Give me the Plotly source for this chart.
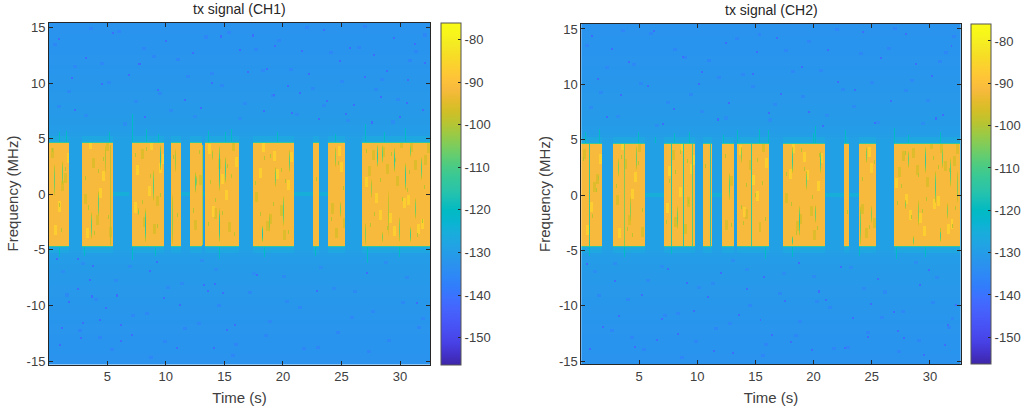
import numpy as np
import plotly.graph_objects as go

# Colour limits shared by both spectrograms (dB)
Z_MIN, Z_MAX = -156.3, -76.0
TIME_SPAN = 32.7
FREQ_SPAN = 15.5
BURST_LEVEL = -91.5

PARULA = [
    [0.2422, 0.1504, 0.6603], [0.2647, 0.1978, 0.7952], [0.2783, 0.2559, 0.8991],
    [0.2813, 0.3006, 0.9414], [0.2795, 0.3447, 0.9717], [0.2699, 0.3892, 0.9906],
    [0.2440, 0.4358, 0.9988], [0.1963, 0.4847, 0.9892], [0.1786, 0.5289, 0.9682],
    [0.1687, 0.5703, 0.9359], [0.1460, 0.6091, 0.9079], [0.1248, 0.6459, 0.8883],
    [0.0952, 0.6798, 0.8598], [0.0297, 0.7082, 0.8163], [0.0067, 0.7312, 0.7660],
    [0.0964, 0.7500, 0.7120], [0.1717, 0.7670, 0.6554], [0.2161, 0.7843, 0.5923],
    [0.2906, 0.7973, 0.5188], [0.3909, 0.8029, 0.4354], [0.5044, 0.7993, 0.3480],
    [0.6174, 0.7876, 0.2612], [0.7242, 0.7698, 0.1910], [0.8203, 0.7498, 0.1535],
    [0.9035, 0.7330, 0.1774], [0.9728, 0.7298, 0.2394], [0.9970, 0.7659, 0.2199],
    [0.9892, 0.8136, 0.1885], [0.9676, 0.8639, 0.1494], [0.9597, 0.9135, 0.1423],
    [0.9691, 0.9606, 0.1064], [0.9769, 0.9839, 0.0805],
]

# Transmission bursts: start and stop times (s)
ch1_bursts = [(0.0, 1.72), (2.84, 5.48), (7.13, 9.78), (10.38, 11.23), (12.06, 13.06),
              (13.34, 16.18), (17.38, 20.94), (22.56, 23.07), (23.87, 25.29), (26.77, 32.7)]
ch2_bursts = [(0.0, 1.81), (2.81, 5.56), (7.16, 9.80), (10.46, 11.29), (12.10, 13.18),
              (13.39, 16.25), (17.45, 21.04), (22.61, 23.10), (23.90, 25.36), (26.89, 32.7)]

# Fades inside the bursts: time, upper frequency, lower frequency, level (dB)
ch1_fades = [
    (0.50, 2.7, -0.15, -106), (1.18, 3.0, 0.75, -106), (3.66, -1.5, -4.0, -108),
    (4.26, 0.3, -2.0, -108), (4.80, 4.5, 1.9, -100), (7.67, -1.3, -1.8, -104),
    (8.16, -1.3, -4.3, -114), (8.84, 2.2, -0.6, -108), (9.44, 4.5, 2.2, -114),
    (10.49, 0.0, -4.5, -103), (10.78, 4.1, 2.0, -102), (12.43, 2.0, 0.1, -108),
    (12.57, 1.6, 0.7, -104), (13.91, 4.0, 3.1, -102), (14.48, 4.4, 0.3, -116),
    (14.48, -1.3, -4.3, -116), (14.99, 3.4, 1.0, -110), (18.18, -2.85, -4.3, -116),
    (18.75, -1.6, -3.4, -102), (19.32, 2.5, 0.6, -106), (20.03, -0.15, -2.85, -108),
    (20.54, 4.0, 2.0, -108), (24.44, 4.3, 2.5, -104), (24.87, -0.7, -2.0, -104),
    (27.00, -2.5, -4.5, -104), (27.50, 1.4, -0.4, -102), (28.00, 4.5, 2.5, -112),
    (28.49, 4.5, 2.8, -108), (28.50, -3.4, -4.3, -104), (29.00, 0.4, -3.7, -100),
    (29.48, 4.2, 2.0, -112), (29.94, -2.0, -4.3, -106), (30.42, 2.8, 0.4, -112),
    (30.90, 4.5, 3.4, -106), (30.90, -2.9, -4.3, -110), (31.30, -0.4, -2.2, -106),
    (31.79, 3.4, 1.3, -108), (5.30, 4.5, -4.5, -98), (13.04, 4.5, -4.5, -100),
]
ch2_fades = [
    (0.69, 4.6, -4.6, -112), (3.21, 3.4, 1.6, -104), (3.73, 4.6, -4.6, -104),
    (4.21, -0.15, -2.5, -104), (4.73, 4.5, 2.3, -106), (7.77, 4.6, -4.6, -114),
    (8.23, -1.0, -3.1, -106), (8.80, 4.6, -4.6, -114), (9.52, 4.6, -4.6, -108),
    (11.06, 4.6, -4.6, -114), (12.67, 2.0, -0.45, -108), (13.73, 4.4, 2.9, -104),
    (14.59, 4.6, -4.6, -112), (18.20, 4.4, 2.0, -112), (18.20, -3.7, -4.5, -112),
    (18.83, -1.0, -3.7, -112), (19.40, 2.2, 0.45, -106), (20.12, -0.9, -2.5, -106),
    (20.61, 4.0, 2.0, -110), (23.99, -1.0, -4.5, -108), (24.56, 4.4, 2.9, -106),
    (24.99, -1.0, -2.5, -104), (27.86, -0.45, -1.3, -104), (28.14, 4.0, 2.5, -106),
    (28.57, -3.7, -4.5, -106), (29.00, -0.45, -2.8, -104), (29.58, 4.4, 2.0, -112),
    (30.44, 2.2, -0.75, -110), (30.87, -3.1, -4.3, -110), (31.00, 4.4, 2.5, -106),
    (31.44, -0.75, -2.2, -104), (31.73, 3.4, 0.75, -108), (32.44, 2.2, -0.75, -104),
]

# Leakage reaching past the occupied band: time, frequency extent above or below the band edge
ch1_spikes = [(0.90, 5.6), (1.53, 5.7), (5.20, 5.6), (7.13, 7.2), (8.27, 5.9), (9.30, 5.5),
              (13.60, 5.7), (15.00, 5.6), (15.50, 5.9), (19.50, 5.6), (24.40, 5.5),
              (27.00, 6.4), (28.60, 5.6), (30.40, 6.0), (0.90, -5.6), (3.00, -5.5),
              (7.13, -5.9), (9.00, -5.5), (14.50, -5.8), (18.40, -5.6), (22.70, -5.5),
              (27.20, -6.2), (29.90, -5.6)]
ch2_spikes = [(0.38, 5.7), (1.60, 6.0), (4.90, 5.7), (6.36, 5.3), (8.00, 5.6), (9.30, 5.7),
              (12.20, 5.5), (13.40, 5.9), (15.30, 6.0), (16.10, 5.9), (20.00, 5.6),
              (20.20, 6.3), (22.70, 5.9), (26.90, 6.1), (28.10, 5.5), (30.90, 5.7),
              (0.69, -5.5), (3.72, -5.6), (7.77, -5.4), (15.90, -5.8), (18.20, -5.6),
              (23.90, -5.5), (27.10, -5.8), (29.60, -5.6)]

# Residual tone at DC between bursts: start, stop (s)
ch1_dc_gaps = [(5.48, 6.9), (11.23, 12.06), (13.06, 13.34), (20.94, 22.56), (23.07, 23.87)]
ch2_dc_gaps = [(5.56, 7.16), (11.29, 12.10), (21.04, 22.61), (23.10, 23.90)]

# Noise-floor level by frequency (dB)
floor_freqs = [15.5, 12.0, 8.0, 5.6, 5.0, 4.7, 0.0, -4.7, -5.0, -5.6, -8.0, -12.0, -15.5]
floor_levels = [-132.5, -132.0, -131.0, -130.0, -129.0, -129.0, -129.0, -129.0, -129.0, -130.0, -131.0, -132.0, -132.5]

# Deep nulls in the noise floor: time (s), frequency (MHz)
ch1_null_t = [0.6, 2.4, 3.5, 2.4, 5.8, 3.6, 1.7, 11.1, 13.1, 14.1, 9.7, 6.1, 2.9, 2.7, 6.1, 14.0, 10.8, 7.1,
              4.8, 8.5, 15.8, 14.8, 1.1, 4.3, 0.9, 13.5, 9.1, 3.7, 15.1, 17.3, 19.2, 21.5, 23.4, 25.6, 27.7,
              29.4, 31.2, 18.5, 22.1, 24.8, 26.9, 28.8, 30.6, 32.1, 20.3, 0.8, 3.1, 5.4, 7.7, 9.9, 12.2,
              14.6, 16.9, 19.1, 21.4, 23.7, 26.0, 28.3, 30.5, 1.9, 4.5, 6.8, 9.2, 11.5, 13.8, 16.2, 18.3,
              20.7, 23.0, 25.3, 27.5, 29.9, 31.9, 2.2, 8.1, 12.9, 17.7, 22.8, 27.1, 31.4]
ch1_null_f = [-5.9, -5.9, -7.8, -8.6, -9.2, -9.3, -9.7, -10.0, -8.3, -8.2, -9.4, -11.8, -11.6, -13.0, -13.3, -13.9,
              -13.9, -12.7, -10.3, -7.0, -11.8, -9.0, -12.1, -11.4, -13.6, -8.8, -6.2, -6.5, -12.3, 14.2, 13.3, 12.8,
              14.6, 13.1, 12.5, 14.0, 13.5, 11.2, 10.7, 11.9, 10.5, 11.0, 10.2, 11.7, 9.6, 13.9, 12.2, 14.4, 11.6,
              13.7, 12.6, 14.1, 10.9, 8.8, 9.0, 8.3, 7.9, 8.6, 8.1, 10.4, 9.8, 10.6, 9.3, 8.4, 9.9, 12.9, 7.4,
              7.2, 6.6, 7.1, 6.4, 6.8, 7.5, 7.5, 6.8, 7.6, -7.4, -8.8, -7.2, -9.8]
ch2_null_t = [0.9, 2.6, 4.1, 6.2, 8.7, 10.1, 12.4, 14.7, 16.8, 19.0, 21.2, 23.5, 25.7, 27.9, 30.1, 31.8, 1.4, 3.4,
              5.7, 7.9, 10.3, 12.6, 15.0, 17.2, 19.6, 22.0, 24.2, 26.6, 28.7, 31.0, 0.5, 2.9, 5.2, 7.4, 9.6,
              11.9, 14.2, 16.4, 18.7, 21.0, 23.3, 25.5, 27.7, 29.8, 32.2, 1.8, 4.6, 6.9, 9.0, 11.3, 13.5,
              15.7, 18.0, 20.4, 22.6, 24.9, 27.2, 29.4, 31.5, 0.7, 3.2, 6.5, 8.3, 10.8, 13.0, 15.4, 17.5,
              19.8, 22.3, 24.6, 26.8, 29.1, 31.2, 2.2, 7.0, 11.7, 16.1, 20.8, 25.2, 30.4]
ch2_null_f = [14.3, 13.1, 11.9, 14.7, 12.4, 9.9, 13.6, 10.8, 14.1, 11.5, 13.0, 9.4, 12.3, 14.5, 10.6, 13.4, 10.4, 8.9,
              9.7, 7.6, 11.0, 8.2, 12.8, 9.0, 7.4, 10.1, 14.6, 8.4, 11.7, 7.1, -6.4, -7.9, -9.1, -6.8, -10.5,
              -7.2, -8.6, -12.7, -6.3, -9.5, -11.2, -7.7, -13.0, -6.9, -10.0, -12.0, -13.8, -11.3, -8.1, -14.2, -10.9,
              -7.5, -13.4, -8.8, -13.9, -9.9, -12.4, -14.5, -11.8, -14.0, -11.0, -13.2, -12.6, -9.3, -14.4, -11.4, -9.6,
              -14.1, -6.6, -12.9, -10.6, -8.3, -13.6, 6.9, 6.4, 6.7, 7.3, 6.2, 6.5, 6.8]

# Weak samples scattered through the bursts: time (s), frequency (MHz)
ch1_grain_t = [0.3, 0.9, 1.4, 3.1, 3.9, 4.7, 5.1, 7.4, 7.9, 8.6, 9.2, 10.6, 10.9, 12.3, 12.8, 13.6, 14.2, 15.2, 15.8,
               17.6, 18.4, 19.1, 19.8, 20.4, 22.8, 24.1, 24.7, 25.1, 27.1, 27.8, 28.3, 28.9, 29.6, 30.2, 30.8, 31.5, 32.1,
               1.1, 3.4, 4.2, 8.3, 9.5, 13.7, 14.8, 15.5, 18.0, 18.9, 20.2, 27.4, 29.2, 30.6, 31.9]
ch1_grain_f = [3.8, -1.2, 2.1, 1.3, -3.6, 3.0, -2.2, 3.4, -0.9, 1.5, -3.0, 3.2, -2.0, -1.6, 3.6, -2.8, -0.7, 2.4, -3.7,
               0.8, 3.1, -1.1, 2.0, -3.5, 1.2, -2.4, 2.6, 0.4, 3.7, -1.9, 1.1, -3.2, 2.9, -0.6, 1.8, -3.8, 0.5,
               -3.4, -1.4, 1.9, 3.9, -0.3, 0.9, -1.8, 1.5, -1.9, 3.3, 1.0, -2.9, 3.5, 0.2, -2.5]
ch2_grain_t = [0.2, 1.0, 1.5, 3.0, 4.0, 4.9, 5.3, 7.3, 8.1, 8.5, 9.2, 10.7, 12.4, 12.9, 13.7, 14.2, 15.1, 15.9, 17.7,
               18.5, 19.2, 19.9, 20.5, 22.9, 24.2, 24.8, 25.2, 27.2, 27.9, 28.4, 29.0, 29.7, 30.3, 30.9, 31.6, 32.2,
               1.3, 3.5, 4.4, 7.6, 9.1, 13.9, 14.9, 15.6, 18.1, 19.0, 20.3, 27.5, 29.3, 30.7, 32.0]
ch2_grain_f = [3.1, -2.1, 1.4, 0.6, -3.3, 2.7, -1.5, -2.6, 1.9, 3.7, -0.8, 2.5, 3.4, -2.9, -1.3, 0.7, 3.0, -2.4, 1.7,
               -3.6, 2.2, -0.4, 3.5, -1.7, 1.3, -3.1, 2.8, -0.9, 3.6, -2.2, 1.6, -0.5, 3.2, -3.4, 2.1, -1.4,
               0.3, 3.3, -3.8, 1.1, 2.9, -2.7, -0.2, 0.9, -1.0, 3.9, -3.2, 0.6, -1.6, 2.4, -3.0]

# Shallow dips that mottle the floor on both channels: time (s), frequency (MHz)
mottle_t = [0.4, 1.6, 3.0, 4.4, 5.9, 7.3, 8.8, 10.2, 11.7, 13.2, 14.6, 16.1, 17.5, 19.0, 20.5, 21.9, 23.3, 24.9, 26.3,
            27.8, 29.2, 30.7, 32.0, 1.1, 2.5, 3.9, 5.3, 6.8, 8.2, 9.7, 11.2, 12.6, 14.1, 15.5, 17.0, 18.4, 19.9,
            21.3, 22.8, 24.2, 25.7, 27.2, 28.6, 30.1, 31.5, 0.7, 2.1, 3.5, 5.0, 6.4, 7.9, 9.3, 10.8, 12.3, 13.7,
            15.2, 16.6, 18.1, 19.5, 21.0, 22.4, 23.9, 25.4, 26.8, 28.3, 29.7, 31.2, 1.4, 2.8, 4.2, 5.6, 7.1, 8.5,
            10.0, 11.4, 12.9, 14.3, 15.8, 17.3, 18.7, 20.2, 21.6, 23.1, 24.5, 26.0, 27.5, 28.9, 30.4, 31.8]
mottle_f = [13.4, 9.1, 6.9, 11.6, 14.5, 8.2, 12.3, 7.4, 10.5, 14.0, 9.6, 6.6, 12.9, 8.7, 11.1, 14.8, 7.8, 10.0, 13.1,
            9.3, 6.4, 11.9, 14.2, -7.1, -12.4, -9.5, -14.1, -6.6, -10.8, -13.4, -8.2, -11.7, -6.9, -14.6, -9.0, -12.8, -7.5,
            -10.3, -13.9, -8.6, -11.2, -14.3, -6.3, -9.8, -12.1, 7.7, 11.4, 14.7, 9.9, 6.2, 13.0, 8.9, 12.0, 6.8, 10.7,
            14.4, 8.0, 11.0, 13.7, 7.0, 9.4, 12.6, 6.5, 14.9, 10.2, 8.4, 12.7, -9.2, -6.4, -13.0, -7.9, -11.0, -14.8,
            -8.5, -12.2, -6.1, -10.1, -13.6, -7.3, -11.5, -9.7, -14.0, -6.7, -12.5, -8.9, -10.6, -13.3, -7.6, -11.3]

# Patches that break up the burst plateau: time (s), frequency (MHz); alternate ones are stronger
plateau_t = [0.2, 0.8, 1.3, 3.2, 3.7, 4.3, 4.9, 7.5, 8.0, 8.6, 9.1, 9.6, 12.4, 13.6, 14.1, 14.7, 15.3, 15.9, 17.6, 18.2,
             18.8, 19.4, 20.0, 20.6, 24.1, 24.7, 25.1, 27.0, 27.6, 28.2, 28.8, 29.4, 30.0, 30.6, 31.2, 31.8, 32.3,
             0.5, 1.1, 1.6, 3.0, 3.5, 4.1, 4.6, 5.2, 7.3, 7.8, 8.4, 8.9, 9.4, 12.8, 13.9, 14.4, 15.0, 15.6,
             17.9, 18.5, 19.1, 19.7, 20.3, 24.4, 24.9, 27.3, 27.9, 28.5, 29.1, 29.7, 30.3, 30.9, 31.5, 32.1]
plateau_f = [3.3, -1.5, 1.0, -3.9, 2.4, -0.4, 3.9, 1.7, -2.9, 4.0, -1.1, 2.7, -3.2, 3.6, -2.2, 0.9, -3.4, 2.5, -0.7, 3.8,
             -2.6, 1.4, -4.1, 2.9, -1.7, 3.5, -3.0, 0.6, 3.1, -2.3, 1.8, -3.7, 4.2, -1.0, 2.2, -3.1, 3.7,
             -3.6, 0.3, 2.8, -0.9, 4.1, -2.7, 1.2, -3.8, -1.6, 3.2, -0.2, -3.5, 1.9, 0.8, -2.0, 2.3, -0.5, 3.9,
             1.5, -3.3, 3.0, -1.9, 0.4, -3.9, 2.0, 1.6, -0.8, 3.4, -2.5, 0.7, -1.3, 3.8, -3.5, 2.6]


def build_power(bursts, fades, spikes, dc_gaps, null_t, null_f, grain_t, grain_f):
    t = np.linspace(0, TIME_SPAN, 383)
    f = np.linspace(-FREQ_SPAN, FREQ_SPAN, 342)
    z = np.tile(np.interp(f, floor_freqs[::-1], floor_levels[::-1]), (t.size, 1)).T

    def span(axis, lo, hi):
        i0 = np.searchsorted(axis, lo)
        return i0, max(np.searchsorted(axis, hi), i0 + 1)

    # Floor mottling comes first so the bursts sit on top of it
    for when, freq in zip(mottle_t, mottle_f):
        c0, r0 = np.searchsorted(t, when), np.searchsorted(f, freq)
        z[r0:r0 + 3, c0:c0 + 4] -= 3.5

    # Occupied band with its skirts and pale edge
    for start, stop in bursts:
        c0, c1 = span(t, start, stop)
        r0, r1 = span(f, -5.3, 5.3)
        z[r0:r1, c0:c1] = -127.0
        r0, r1 = span(f, -4.7, 4.7)
        z[r0:r1, c0:c1] = -114.0
        r0, r1 = span(f, -4.6, 4.6)
        z[r0:r1, c0:c1] = BURST_LEVEL

    # Plateau patches only touch cells that are inside a burst
    for k, (when, freq) in enumerate(zip(plateau_t, plateau_f)):
        c0, r0 = np.searchsorted(t, when), np.searchsorted(f, freq)
        patch = z[r0:r0 + 10, c0:c0 + 3]
        patch[patch > -100] += 5.0 if k % 2 else -3.5

    for start, stop in dc_gaps:
        c0, c1 = span(t, start, stop)
        r0, r1 = span(f, -0.15, 0.15)
        z[r0:r1, c0:c1] = -125.0

    # Short fades taper towards both ends, full-height ones keep their depth
    for when, upper, lower, level in fades:
        c0 = np.searchsorted(t, when)
        r0, r1 = span(f, lower, upper)
        if upper - lower < 8:
            weight = np.sin(np.pi * (np.arange(r1 - r0) + 0.5) / (r1 - r0)) ** 0.7
        else:
            weight = np.ones(r1 - r0)
        z[r0:r1, c0] = BURST_LEVEL + (level - BURST_LEVEL) * weight

    for when, reach in spikes:
        c0 = np.searchsorted(t, when)
        lo, hi = (4.7, reach) if reach > 0 else (reach, -4.7)
        r0, r1 = span(f, lo, hi)
        z[r0:r1, c0] = -120.0

    # Isolated nulls and weak samples
    for when, freq in zip(null_t, null_f):
        c0, r0 = np.searchsorted(t, when), np.searchsorted(f, freq)
        z[r0:r0 + 2, c0:c0 + 2] = -141.0
    for when, freq in zip(grain_t, grain_f):
        c0, r0 = np.searchsorted(t, when), np.searchsorted(f, freq)
        z[r0:r0 + 4, c0] = -99.0

    return t, f, z


INK = "#404040"
FONT = "Liberation Sans, Arial, sans-serif"
scale = [[i / (len(PARULA) - 1), f"rgb({r*255:.0f},{g*255:.0f},{b*255:.0f})"] for i, (r, g, b) in enumerate(PARULA)]
cbar_ticks = [-80, -90, -100, -110, -120, -130, -140, -150]
cbar_labels = ["-80", "-90", "-100", "-110", "-120", "-130", "-140", "-150"]
freq_ticks = [-15, -10, -5, 0, 5, 10, 15]
freq_labels = ["-15", "-10", "-5", "0", "5", "10", "15"]
time_ticks = [5, 10, 15, 20, 25, 30]

fig = go.Figure()
H = 413.0
W = 1028.0
panels = [
    dict(name="tx signal (CH1)", ax="", xd=(49, 430), yd=(22.5, 364.5), xr=(0.02, 32.56), yr=(-15.3, 15.44),
         bar=441.3, data=(ch1_bursts, ch1_fades, ch1_spikes, ch1_dc_gaps, ch1_null_t, ch1_null_f, ch1_grain_t, ch1_grain_f)),
    dict(name="tx signal (CH2)", ax="2", xd=(581.3, 960.7), yd=(24, 364), xr=(0.03, 32.65), yr=(-15.27, 15.45),
         bar=971.3, data=(ch2_bursts, ch2_fades, ch2_spikes, ch2_dc_gaps, ch2_null_t, ch2_null_f, ch2_grain_t, ch2_grain_f)),
]

for p in panels:
    t, f, z = build_power(*p["data"])
    fig.add_trace(go.Heatmap(
        x=t, y=f, z=z, zmin=Z_MIN, zmax=Z_MAX, colorscale=scale, xaxis="x" + p["ax"], yaxis="y" + p["ax"],
        hoverinfo="skip",
        colorbar=dict(
            x=p["bar"] / W, xanchor="left", xpad=0, ypad=0, y=1 - p["yd"][0] / H, yanchor="top",
            thicknessmode="pixels", thickness=20.4, lenmode="pixels", len=p["yd"][1] - p["yd"][0],
            tickmode="array", tickvals=cbar_ticks, ticktext=cbar_labels, ticks="inside", ticklen=3, tickcolor="#262626",
            tickfont=dict(family=FONT, size=13, color=INK), outlinecolor="#555555", outlinewidth=1,
        ),
    ))
    axis_common = dict(
        ticks="inside", ticklen=4, tickcolor="#262626", tickwidth=1, showline=True, linecolor="#262626", linewidth=1,
        mirror="ticks", showgrid=False, zeroline=False, tickfont=dict(family=FONT, size=13, color=INK),
    )
    fig.update_layout({
        "xaxis" + p["ax"]: dict(
            domain=[p["xd"][0] / W, p["xd"][1] / W], range=list(p["xr"]), tickvals=time_ticks,
            anchor="y" + p["ax"], title=dict(text="Time (s)", font=dict(family=FONT, size=15, color=INK), standoff=9),
            **axis_common),
        "yaxis" + p["ax"]: dict(
            domain=[1 - p["yd"][1] / H, 1 - p["yd"][0] / H], range=list(p["yr"]),
            tickvals=freq_ticks, ticktext=freq_labels, anchor="x" + p["ax"],
            title=dict(text="Frequency (MHz)", font=dict(family=FONT, size=15, color=INK), standoff=4),
            **axis_common),
    })
    fig.add_annotation(
        x=(p["xd"][0] + p["xd"][1]) / 2 / W, y=1 - (p["yd"][0] - 4) / H, xref="paper", yref="paper",
        xanchor="center", yanchor="bottom", showarrow=False, text=p["name"],
        font=dict(family=FONT, size=14, color="#262626"),
    )

fig.update_layout(
    width=1028, height=413, margin=dict(l=0, r=0, t=0, b=0, autoexpand=False), paper_bgcolor="white",
    plot_bgcolor="white", showlegend=False,
)
fig.write_html("out.html", config=dict(displayModeBar=False))
